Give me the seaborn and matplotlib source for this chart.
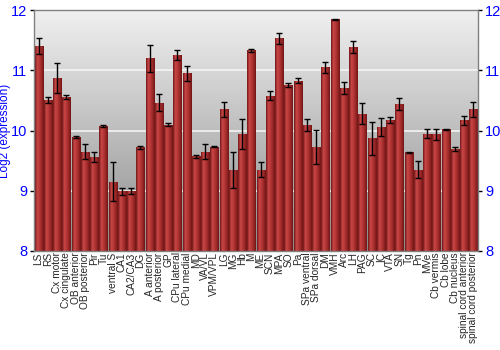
import numpy as np
import pandas as pd
import matplotlib
matplotlib.use("Agg")
import matplotlib.pyplot as plt
from matplotlib.colors import LinearSegmentedColormap
import seaborn as sns

categories = ["LS", "RS", "Cx motor", "Cx cingulate", "OB anterior", "OB posterior", "Pir", "Tu",
              "ventral S", "CA1", "CA2/CA3", "DG", "A anterior", "A posterior", "GP", "CPu lateral",
              "CPu medial", "MD", "VA/VL", "VPM/VPL", "LG", "MG", "Hb", "M", "ME", "SCN", "MPA", "SO",
              "Pa", "SPa ventral", "SPa dorsal", "DM", "VMH", "Arc", "LH", "PAG", "SC", "IC", "VTA",
              "SN", "Tg", "Pn", "MVe", "Cb vermis", "Cb lobe", "Cb nucleus", "spinal cord anterior",
              "spinal cord posterior"]
values = [11.40, 10.51, 10.87, 10.56, 9.89, 9.65, 9.56, 10.08,
          9.15, 8.99, 8.99, 9.72, 11.20, 10.46, 10.10, 11.25,
          10.95, 9.57, 9.65, 9.73, 10.35, 9.35, 9.95, 11.33, 9.35, 10.58, 11.53, 10.76,
          10.83, 10.10, 9.73, 11.05, 11.85, 10.70, 11.39, 10.28, 9.87, 10.06, 10.17,
          10.44, 9.64, 9.35, 9.95, 9.94, 10.02, 9.69, 10.17,
          10.35]
errors = [0.13, 0.05, 0.25, 0.03, 0.02, 0.13, 0.08, 0.02,
          0.32, 0.06, 0.05, 0.03, 0.22, 0.14, 0.03, 0.08,
          0.12, 0.03, 0.13, 0.01, 0.12, 0.30, 0.25, 0.02, 0.12, 0.08, 0.09, 0.03,
          0.04, 0.10, 0.28, 0.09, 0.01, 0.10, 0.10, 0.17, 0.27, 0.15, 0.05,
          0.10, 0.01, 0.14, 0.08, 0.09, 0.01, 0.03, 0.08,
          0.13]
yticks = [8, 9, 10, 11, 12]

df = pd.DataFrame({"region": categories, "value": values, "err": errors})

sns.set_style("white")
plt.rcParams['font.family'] = ['Liberation Sans', 'DejaVu Sans']

fig = plt.figure(figsize=(5, 3.5), dpi=100)
ax = fig.add_axes([0.068, 0.283, 0.888, 0.688])

ymin, ymax = 8, 12
n = len(categories)

# background gradient
bg = LinearSegmentedColormap.from_list("bg", ["#8c8c8c", "#f0f0f0"])
grad = np.linspace(0, 1, 256).reshape(-1, 1)
ax.imshow(grad, aspect="auto", cmap=bg, origin="lower",
          extent=[-0.5, n - 0.5, ymin, ymax], zorder=0)

for y in [9, 10, 11]:
    ax.axhline(y, color="#f4f4f4", lw=1.2, zorder=1)

sns.barplot(data=df, x="region", y="value", color="#b03030", width=0.87,
            errorbar=None, ax=ax, zorder=2, linewidth=0)

# gradient fill for bars
barcm = LinearSegmentedColormap.from_list(
    "bar", ["#6e1616", "#c84646", "#b83838", "#9a2828", "#701414"])
hgrad = np.linspace(0, 1, 64).reshape(1, -1)
for p in ax.patches:
    x0 = p.get_x(); w = p.get_width(); h = p.get_height()
    p.set_facecolor("none")
    im = ax.imshow(hgrad, aspect="auto", cmap=barcm,
                   extent=[x0, x0 + w, ymin, h], zorder=2.5)
    im.set_clip_path(p)

ax.errorbar(np.arange(n), df["value"], yerr=df["err"], fmt="none",
            ecolor="black", elinewidth=1, capsize=2, capthick=1, zorder=3)

ax.set_xlim(-0.5, n - 0.5)
ax.set_ylim(ymin, ymax)
ax.set_yticks(yticks)
ax.set_xlabel("")
ax.set_ylabel("Log2 (expression)", color="blue", fontsize=8.5, labelpad=0)
ax.set_xticks(np.arange(n))
ax.set_xticklabels(categories, rotation=90, fontsize=7.3)
ax.tick_params(axis="x", length=0, pad=1)
ax.tick_params(axis="y", colors="black", labelcolor="blue", labelsize=10.5,
               length=3, width=1, direction="out", left=True, right=True,
               labelleft=True, labelright=True, pad=2)
for s in ax.spines.values():
    s.set_color("#808080")
    s.set_linewidth(1)

fig.savefig("out.png", dpi=100)
